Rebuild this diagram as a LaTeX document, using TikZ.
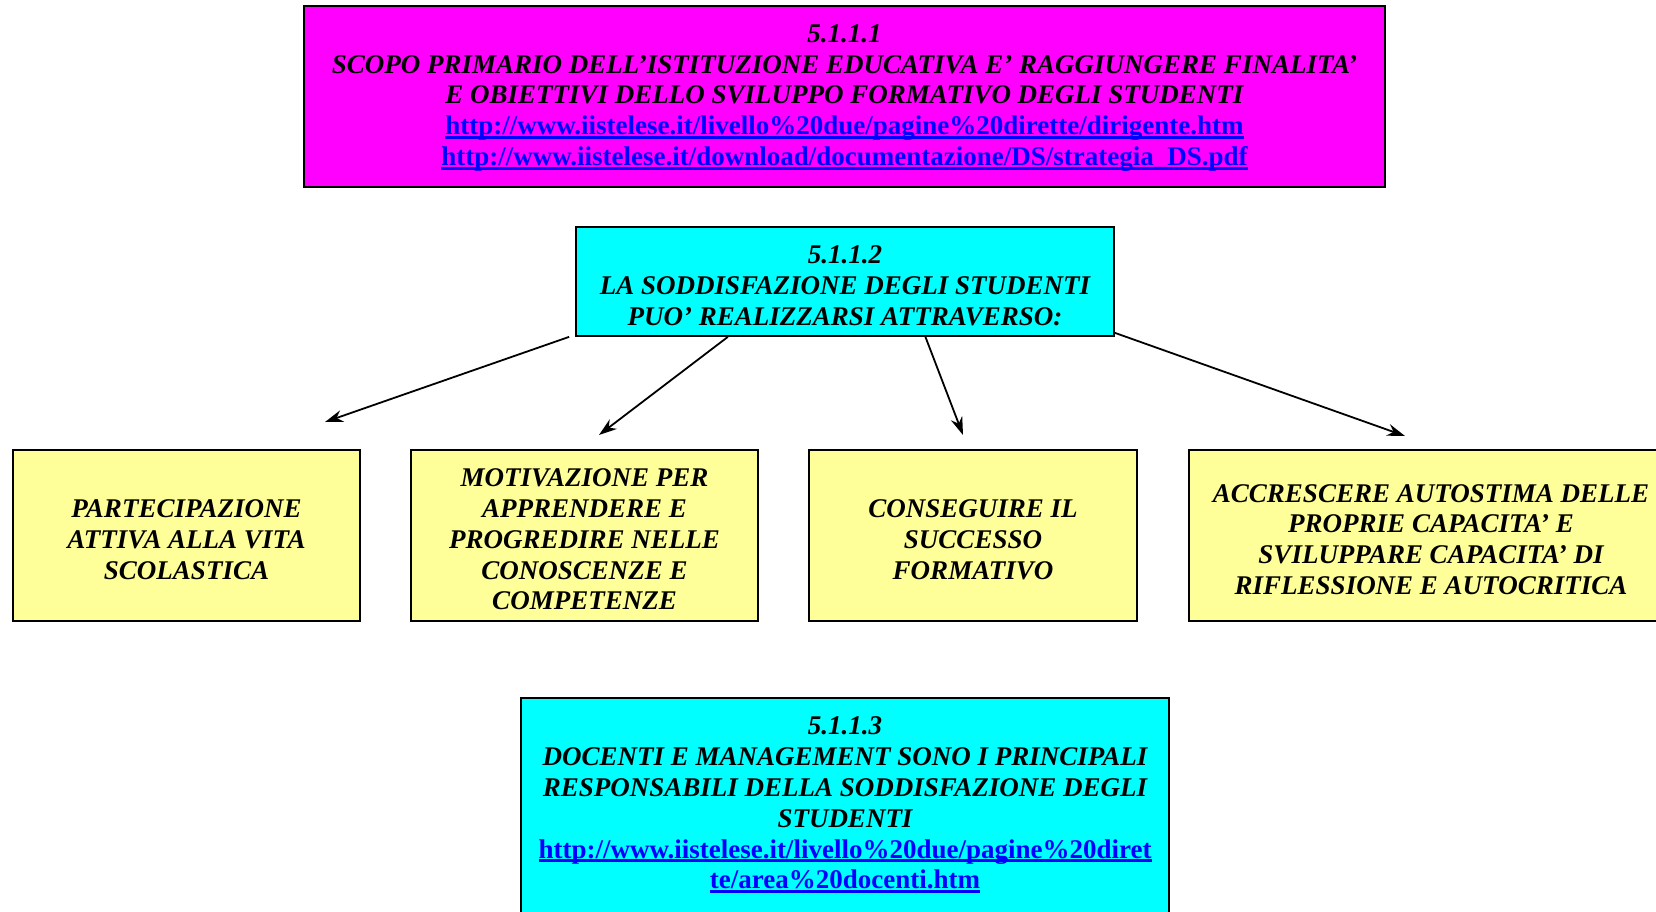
\documentclass[tikz,border=0pt]{standalone}
\usepackage{fontspec}
\setmainfont{Liberation Serif}
\usetikzlibrary{arrows.meta,calc}
\definecolor{magbox}{RGB}{255,0,255}
\definecolor{cyanbox}{RGB}{0,255,255}
\definecolor{yelbox}{RGB}{255,255,153}
\definecolor{linkblue}{RGB}{0,0,255}
\newcommand{\lnk}[1]{\textcolor{linkblue}{\upshape\setbox0\hbox{#1}\rlap{\rule[-4pt]{\wd0}{2.8pt}}\box0}}
\begin{document}
\begin{tikzpicture}[x=1pt,y=-1pt,
  boxstyle/.style={draw=black, line width=1.7pt, inner sep=0pt},
  txtstyle/.style={align=center, inner sep=0pt,
    font=\bfseries\itshape\fontsize{27}{30.8}\selectfont},
  arr/.style={line width=1.8pt, -{Stealth[length=18pt,width=12pt]}}]
\useasboundingbox (0,0) rectangle (1656,911);
\fill[white] (0,0) rectangle (1656,911);

\node[boxstyle, fill=magbox, minimum width=1081pt, minimum height=181pt] (top) at (844.5,96.5) {};
\node[txtstyle] (toptxt) at ($(top.center)+(0,1.5)$)
 {5.1.1.1\\
  SCOPO PRIMARIO DELL’ISTITUZIONE EDUCATIVA E’ RAGGIUNGERE FINALITA’\\
  E OBIETTIVI DELLO SVILUPPO FORMATIVO DEGLI STUDENTI\\
  \lnk{http://www.iistelese.it/livello\%20due/pagine\%20dirette/dirigente.htm}\\
  \lnk{http://www.iistelese.it/download/documentazione/DS/strategia\_DS.pdf}};

\node[boxstyle, fill=cyanbox, minimum width=538pt, minimum height=109pt] (mid) at (845,281.5) {};
\node[txtstyle] (midtxt) at ($(mid.center)+(0,4)$)
 {5.1.1.2\\ LA SODDISFAZIONE DEGLI STUDENTI\\ PUO’ REALIZZARSI ATTRAVERSO:};

\node[boxstyle, fill=yelbox, minimum width=347pt, minimum height=171pt] (ba) at (186.5,535.5) {};
\node[txtstyle] (batxt) at ($(ba.center)+(0,4)$)
 {PARTECIPAZIONE\\ ATTIVA ALLA VITA\\ SCOLASTICA};
\node[boxstyle, fill=yelbox, minimum width=347pt, minimum height=171pt] (bb) at (584.5,535.5) {};
\node[txtstyle] (bbtxt) at ($(bb.center)+(0,4)$)
 {MOTIVAZIONE PER\\ APPRENDERE E\\ PROGREDIRE NELLE\\ CONOSCENZE E\\ COMPETENZE};
\node[boxstyle, fill=yelbox, minimum width=328pt, minimum height=171pt] (bc) at (973,535.5) {};
\node[txtstyle] (bctxt) at ($(bc.center)+(0,4)$)
 {CONSEGUIRE IL\\ SUCCESSO\\ FORMATIVO};
\node[boxstyle, fill=yelbox, minimum width=484pt, minimum height=171pt] (bd) at (1431,535.5) {};
\node[txtstyle] (bdtxt) at ($(bd.center)+(0,4)$)
 {ACCRESCERE AUTOSTIMA DELLE\\ PROPRIE CAPACITA’ E\\ SVILUPPARE CAPACITA’ DI\\ RIFLESSIONE E AUTOCRITICA};

\node[boxstyle, fill=cyanbox, minimum width=648pt, minimum height=224pt] (bot) at (845,810) {};
\node[txtstyle] (bottxt) at (845,805)
 {5.1.1.3\\
  DOCENTI E MANAGEMENT SONO I PRINCIPALI\\
  RESPONSABILI DELLA SODDISFAZIONE DEGLI\\
  STUDENTI\\
  \lnk{http://www.iistelese.it/livello\%20due/pagine\%20diret}\\
  \lnk{te/area\%20docenti.htm}};

\coordinate (ta) at (325,422);
\coordinate (tb) at (599,435);
\coordinate (tc) at (963,435);
\coordinate (td) at (1405,436);
\draw[arr] ($(mid.south west)+(-6,0)$) -- (ta);
\draw[arr] ($(mid.south west)!0.283!(mid.south east)$) -- (tb);
\draw[arr] ($(mid.south west)!0.649!(mid.south east)$) -- (tc);
\draw[arr] ($(mid.south east)+(0,-4)$) -- (td);
\end{tikzpicture}
\end{document}
